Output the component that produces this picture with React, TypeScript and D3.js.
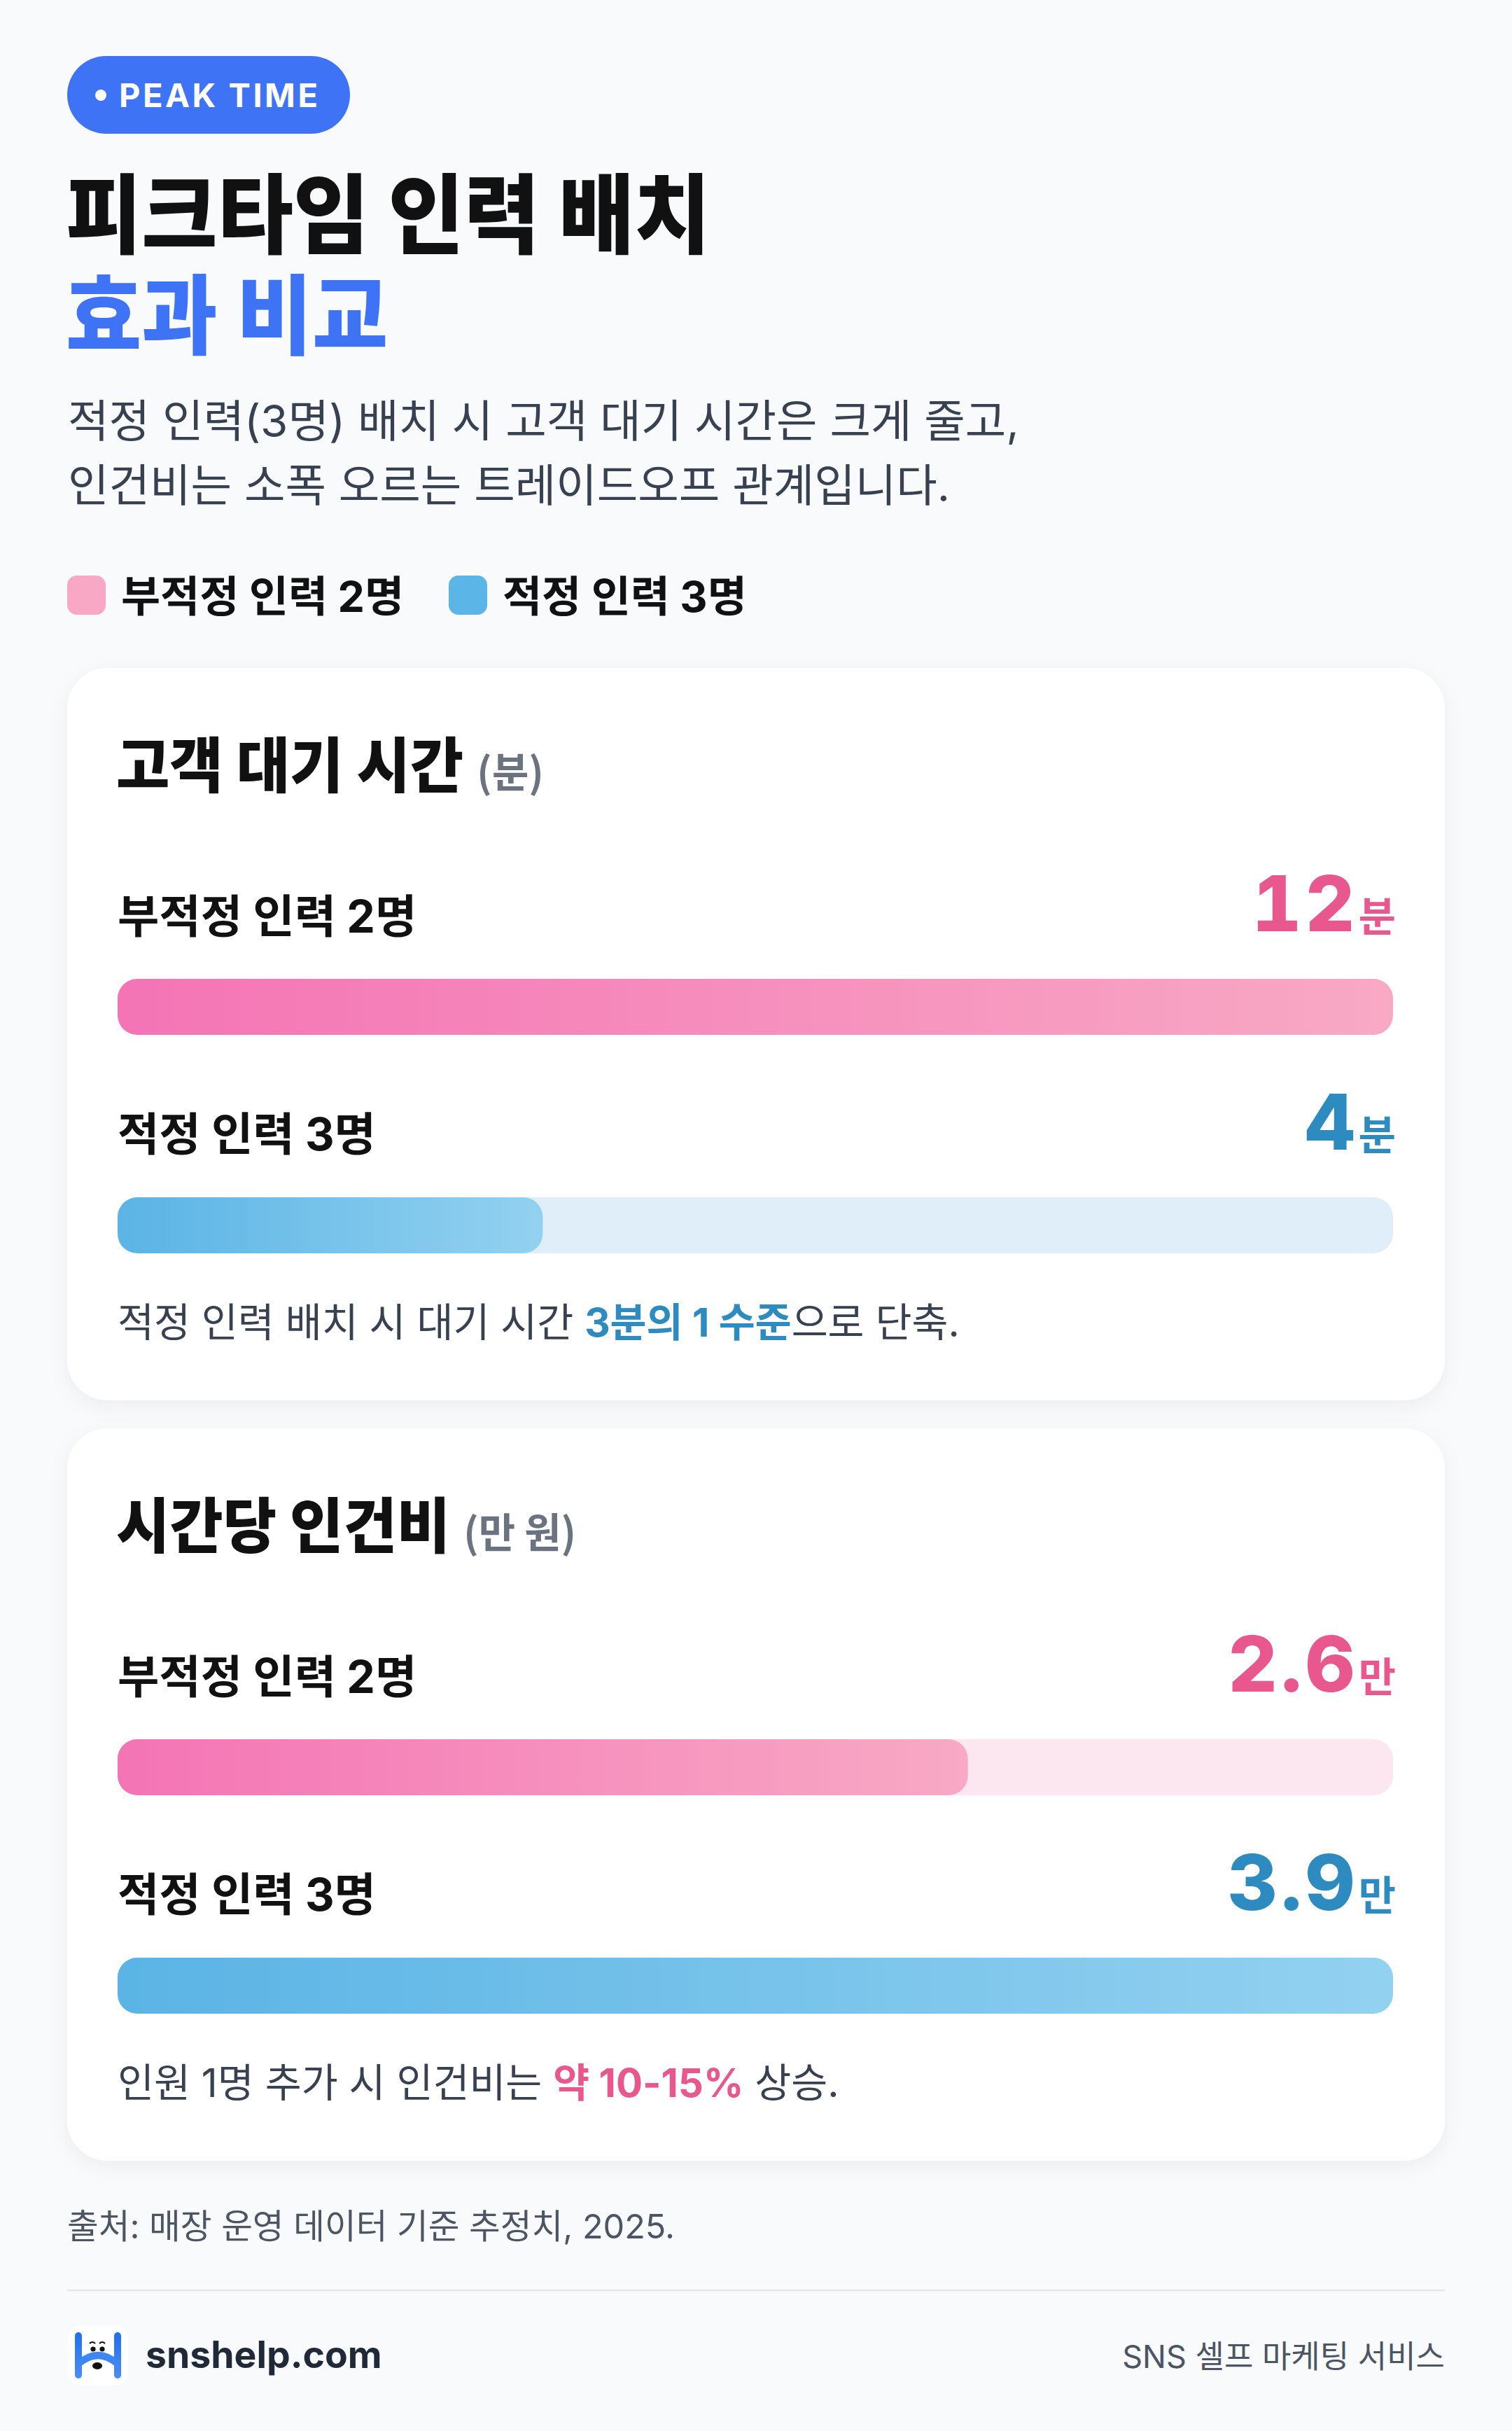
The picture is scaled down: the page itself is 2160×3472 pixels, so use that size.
import React from "react";
import * as d3 from "d3";

// ---------- data ----------
const groups = ["부적정 인력 2명", "적정 인력 3명"];
const waitMinutes = [12, 4];
const hourlyCostManwon = [2.6, 3.9];
const panelTitles = ["고객 대기 시간", "시간당 인건비"];
const panelUnits = ["(분)", "(만 원)"];
const valueSuffixes = ["분", "만"];
const noteWait: [string, boolean][] = [
  ["적정 인력 배치 시 대기 시간 ", false],
  ["3분의 1 수준", true],
  ["으로 단축.", false],
];
const noteCost: [string, boolean][] = [
  ["인원 1명 추가 시 인건비는 ", false],
  ["약 10-15%", true],
  [" 상승.", false],
];
const badgeText = "PEAK TIME";
const titleLines = ["피크타임 인력 배치", "효과 비교"];
const subtitleLines = [
  "적정 인력(3명) 배치 시 고객 대기 시간은 크게 줄고,",
  "인건비는 소폭 오르는 트레이드오프 관계입니다.",
];
const sourceText = "출처: 매장 운영 데이터 기준 추정치, 2025.";
const brandText = "snshelp.com";
const serviceText = "SNS 셀프 마케팅 서비스";

// ---------- style ----------
const W = 2160;
const H = 3472;
const HANGUL = "'Noto Sans CJK KR', sans-serif";
const MIXED = "Inter, 'Noto Sans CJK KR', sans-serif";
const BLUE_BRAND = "#3F73F6";
const seriesFill = ["url(#gradPink)", "url(#gradBlue)"];
const seriesTrack = ["#FCE6EF", "#E0EEF9"];
const seriesSwatch = ["#F8A8C5", "#5BB5E6"];
const seriesValue = ["#E8588F", "#2E8BC0"];
const panelAccent = ["#2E8BC0", "#E8588F"];

const cardX = 96;
const cardW = 1968;
const cardH = 1046;
const cardTops = [954, 2040];
const padX = 72;
const innerW = cardW - 2 * padX - 2;
const rowLabelBase = [378, 689];
const rowValueBase = [376, 688];
const rowBarY = [444, 756];
const barH = 80;

const fmt = (v: number) => d3.format("~f")(v);

export default function App() {
  const panels = [
    { title: panelTitles[0], unit: panelUnits[0], values: waitMinutes, suffix: valueSuffixes[0], note: noteWait },
    { title: panelTitles[1], unit: panelUnits[1], values: hourlyCostManwon, suffix: valueSuffixes[1], note: noteCost },
  ];

  return (
    <svg
      width={W}
      height={H}
      viewBox={`0 0 ${W} ${H}`}
      style={{ position: "absolute", left: 0, top: 0, display: "block" }}
    >
      <defs>
        <linearGradient id="gradPink" x1="0" x2="1" y1="0" y2="0">
          <stop offset="0" stopColor="#F474B5" />
          <stop offset="1" stopColor="#F8A9C4" />
        </linearGradient>
        <linearGradient id="gradBlue" x1="0" x2="1" y1="0" y2="0">
          <stop offset="0" stopColor="#5AB4E5" />
          <stop offset="1" stopColor="#93D1F0" />
        </linearGradient>
        <linearGradient id="gradLogo" x1="0" x2="0" y1="0" y2="1">
          <stop offset="0" stopColor="#1F6FEF" />
          <stop offset="1" stopColor="#4C8DF6" />
        </linearGradient>
        <filter id="cardShadow" x="-5%" y="-10%" width="110%" height="125%">
          <feDropShadow dx="0" dy="8" stdDeviation="14" floodColor="#0f172a" floodOpacity="0.05" />
        </filter>
      </defs>

      <rect x={0} y={0} width={W} height={H} fill="#F8FAFC" />

      {/* badge */}
      <rect x={96} y={80} width={404} height={111} rx={55.5} fill={BLUE_BRAND} />
      <circle cx={144} cy={136} r={8} fill="#fff" />
      <text x={170} y={153} fontFamily={MIXED} fontWeight={700} fontSize={47} letterSpacing={3.5} fill="#fff">
        {badgeText}
      </text>

      {/* title */}
      <text
        transform="translate(94,352) scale(0.95,1)"
        fontFamily={HANGUL}
        fontWeight={900}
        fontSize={124}
        fill="#111111"
      >
        {titleLines[0]}
      </text>
      <text
        transform="translate(94,496) scale(0.95,1)"
        fontFamily={HANGUL}
        fontWeight={900}
        fontSize={124}
        fill={BLUE_BRAND}
      >
        {titleLines[1]}
      </text>

      {/* subtitle */}
      {subtitleLines.map((s, i) => (
        <text key={i} x={97} y={624 + i * 92} fontFamily={MIXED} fontWeight={400} fontSize={63.6} fill="#374151">
          {s}
        </text>
      ))}

      {/* legend */}
      {groups.map((g, i) => {
        const x0 = i === 0 ? 96 : 641;
        return (
          <g key={g}>
            <rect x={x0} y={822} width={55} height={56} rx={14} fill={seriesSwatch[i]} />
            <text x={x0 + 77} y={874} fontFamily={MIXED} fontWeight={700} fontSize={61} fill="#111111">
              {g}
            </text>
          </g>
        );
      })}

      {/* cards */}
      {panels.map((p, pi) => {
        const top = cardTops[pi];
        const x = d3.scaleLinear().domain([0, d3.max(p.values) as number]).range([0, innerW]);
        const left = cardX + padX;
        const right = left + innerW;
        return (
          <g key={p.title}>
            <rect x={cardX} y={top} width={cardW} height={cardH} rx={58} fill="#ffffff" filter="url(#cardShadow)" />
            <text
              transform={`translate(${left - 2},${top + 171}) scale(0.965,1)`}
              fontFamily={HANGUL}
              style={{ whiteSpace: "pre" }}
            >
              <tspan fontWeight={900} fontSize={86} fill="#111111">
                {p.title}
              </tspan>
              <tspan dx={20} fontWeight={600} fontSize={59} fill="#6B7280">
                {p.unit}
              </tspan>
            </text>

            {p.values.map((v, i) => (
              <g key={i}>
                <text
                  x={left}
                  y={top + rowLabelBase[i]}
                  fontFamily={MIXED}
                  fontWeight={700}
                  fontSize={64.5}
                  fill="#111111"
                >
                  {groups[i]}
                </text>
                <text
                  x={right + 4}
                  y={top + rowValueBase[i]}
                  textAnchor="end"
                  style={{ whiteSpace: "pre" }}
                  fill={seriesValue[i]}
                >
                  <tspan
                    fontFamily="Inter, sans-serif"
                    fontWeight={800}
                    fontSize={110}
                    letterSpacing={5}
                    style={{ fontVariantNumeric: "tabular-nums" }}
                  >
                    {fmt(v)}
                  </tspan>
                  <tspan dx={0} fontFamily={HANGUL} fontWeight={700} fontSize={58}>
                    {p.suffix}
                  </tspan>
                </text>
                <rect
                  x={left}
                  y={top + rowBarY[i]}
                  width={x.range()[1]}
                  height={barH}
                  rx={28}
                  fill={seriesTrack[i]}
                />
                <rect
                  x={left}
                  y={top + rowBarY[i]}
                  width={x(v)}
                  height={barH}
                  rx={28}
                  fill={seriesFill[i]}
                />
              </g>
            ))}

            <text
              x={left}
              y={top + 955}
              fontFamily={MIXED}
              fontSize={56.5}
              fill="#374151"
              style={{ whiteSpace: "pre" }}
            >
              {p.note.map(([t, hl], k) => (
                <tspan key={k} fontWeight={hl ? 700 : 400} fill={hl ? panelAccent[pi] : "#374151"}>
                  {t}
                </tspan>
              ))}
            </text>
          </g>
        );
      })}

      {/* footer */}
      <text x={96} y={3197} fontFamily={MIXED} fontSize={48.6} fill="#4B5563">
        {sourceText}
      </text>
      <line x1={96} x2={2064} y1={3271} y2={3271} stroke="#E5E7EB" strokeWidth={2.5} />

      {/* logo */}
      <g>
        <rect x={97} y={3321} width={86} height={86} rx={20} fill="#ffffff" />
        <rect x={107} y={3331} width={10} height={66} rx={5} fill="url(#gradLogo)" />
        <rect x={163} y={3331} width={10} height={66} rx={5} fill="url(#gradLogo)" />
        <path d="M112,3376 Q140,3352 168,3376" fill="none" stroke="#3F86F5" strokeWidth={10} />
        <circle cx={133} cy={3355} r={3.6} fill="#111" />
        <circle cx={146} cy={3355} r={3.6} fill="#111" />
        <path d="M128,3347 q4,-4 8,0" fill="none" stroke="#111" strokeWidth={2} />
        <path d="M142,3347 q4,-4 8,0" fill="none" stroke="#111" strokeWidth={2} />
        <ellipse cx={139} cy={3379} rx={7} ry={5} fill="#111" />
      </g>
      <text x={208} y={3382} fontFamily="Inter, sans-serif" fontWeight={700} fontSize={53.5} fill="#1F2937">
        {brandText}
      </text>
      <text x={2064} y={3382} textAnchor="end" fontFamily={MIXED} fontSize={45} fill="#4B5563">
        {serviceText}
      </text>
    </svg>
  );
}
